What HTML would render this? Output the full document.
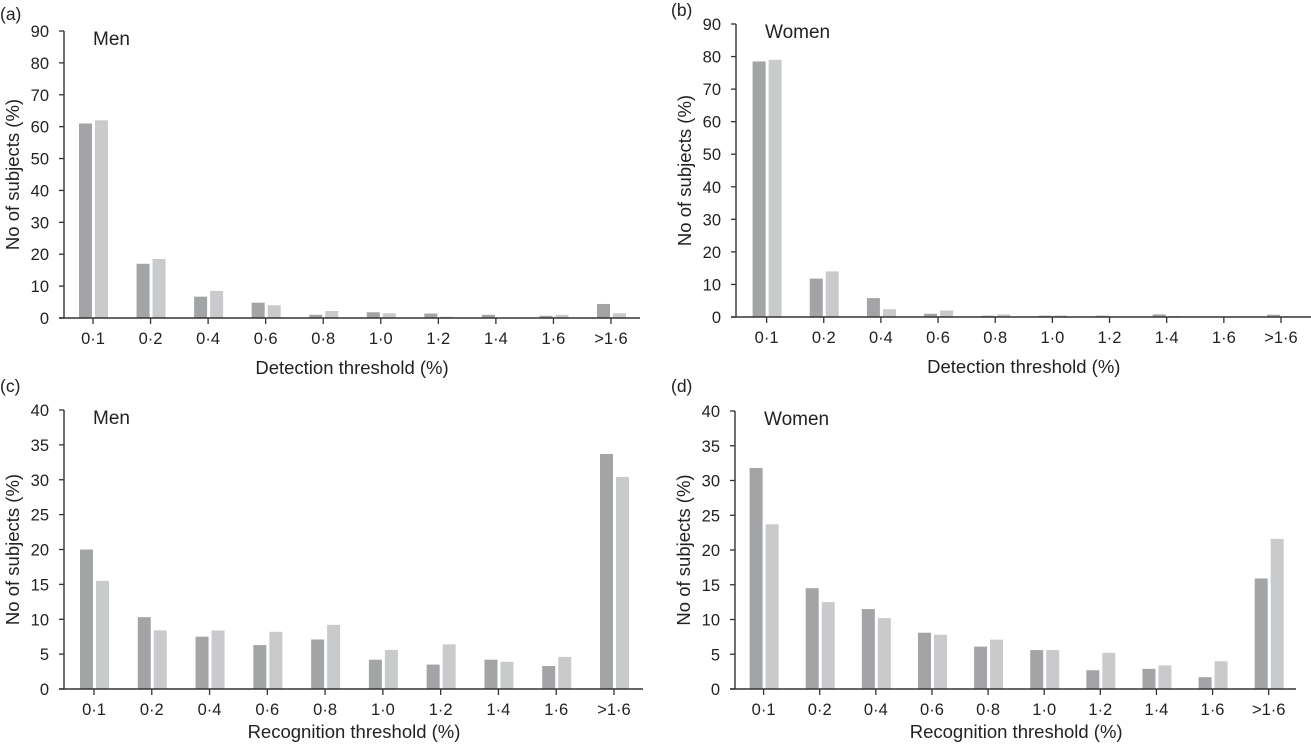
<!DOCTYPE html>
<html><head><meta charset="utf-8"><style>
html,body{margin:0;padding:0;background:#fff;}
svg{display:block;font-family:"Liberation Sans",Arial,sans-serif;}
</style></head><body>
<svg id="fig" width="1311" height="746" viewBox="0 0 1311 746"></svg>
<script>
const categories = ["0·1","0·2","0·4","0·6","0·8","1·0","1·2","1·4","1·6",">1·6"];
const menDetectionA = [61,17,6.7,4.8,1,1.8,1.4,1,0.7,4.4];
const menDetectionB = [62,18.5,8.5,4,2.2,1.5,0.4,0,1,1.5];
const womenDetectionA = [78.5,11.8,5.8,1,0.4,0.4,0.4,0.8,0,0.7];
const womenDetectionB = [79,14,2.4,2,0.8,0.5,0,0.3,0,0.2];
const menRecognitionA = [20,10.3,7.5,6.3,7.1,4.2,3.5,4.2,3.3,33.7];
const menRecognitionB = [15.5,8.4,8.4,8.2,9.2,5.6,6.4,3.9,4.6,30.4];
const womenRecognitionA = [31.8,14.5,11.5,8.1,6.1,5.6,2.7,2.9,1.7,15.9];
const womenRecognitionB = [23.7,12.5,10.2,7.8,7.1,5.6,5.2,3.4,4.0,21.6];
const detTicks = [0,10,20,30,40,50,60,70,80,90];
const recTicks = [0,5,10,15,20,25,30,35,40];

const NS="http://www.w3.org/2000/svg";
const svg=document.getElementById('fig');
function mk(tag,attrs,parent){const e=document.createElementNS(NS,tag);for(const k in attrs)e.setAttribute(k,attrs[k]);(parent||svg).appendChild(e);return e;}

const panels=[
 {id:'a',label:'(a)',title:'Men',xt:'Detection threshold (%)',ax:64,y0:318,yTop:31,ymax:90,ticks:detTicks,c0:93,c1:611,xEnd:640,labX:0,labY:20,xtOff:56,dA:menDetectionA,dB:menDetectionB},
 {id:'b',label:'(b)',title:'Women',xt:'Detection threshold (%)',ax:736,y0:317,yTop:24,ymax:90,ticks:detTicks,c0:766.6,c1:1281,xEnd:1311,labX:671,labY:16,xtOff:56,dA:womenDetectionA,dB:womenDetectionB},
 {id:'c',label:'(c)',title:'Men',xt:'Recognition threshold (%)',ax:64,y0:689,yTop:410,ymax:40,ticks:recTicks,c0:94,c1:614,xEnd:643,labX:0,labY:392,xtOff:49,dA:menRecognitionA,dB:menRecognitionB},
 {id:'d',label:'(d)',title:'Women',xt:'Recognition threshold (%)',ax:735,y0:689,yTop:411,ymax:40,ticks:recTicks,c0:763.6,c1:1268.7,xEnd:1296,labX:671,labY:392,xtOff:49,dA:womenRecognitionA,dB:womenRecognitionB}
];

panels.forEach(p=>{
 const g=mk('g',{});
 
 
 const yS=v=>p.y0-(v/p.ymax)*(p.y0-p.yTop);
 const step=(p.c1-p.c0)/(categories.length-1);
 const xS=i=>p.c0+i*step;
 categories.forEach((c,i)=>{
  const x=xS(i);
  const hA=p.y0-yS(p.dA[i]);
  const r1=mk('rect',{x:x-14,y:yS(p.dA[i]),width:13,height:Math.max(0,hA),fill:'#a3a4a6'},g);
  
  
  const hB=p.y0-yS(p.dB[i]);
  const r2=mk('rect',{x:x+2,y:yS(p.dB[i]),width:13,height:Math.max(0,hB),fill:'#c9cacc'},g);
  
  
  mk('line',{x1:x,x2:x,y1:p.y0,y2:p.y0+6,stroke:'#333','stroke-width':1.3},g);
  const t=mk('text',{x:x,y:p.y0+26,'text-anchor':'middle','font-size':16.5,fill:'#222'},g);
  t.textContent=c;
  
  
 });
 mk('line',{x1:p.ax,x2:p.ax,y1:p.yTop,y2:p.y0,stroke:'#333','stroke-width':1.4},g);
 mk('line',{x1:p.ax-5,x2:p.xEnd,y1:p.y0,y2:p.y0,stroke:'#333','stroke-width':1.4},g);
 p.ticks.forEach(v=>{
  const y=yS(v);
  mk('line',{x1:p.ax-5,x2:p.ax,y1:y,y2:y,stroke:'#333','stroke-width':1.3},g);
  const t=mk('text',{x:p.ax-15,y:y+6,'text-anchor':'end','font-size':16.5,fill:'#222'},g);
  t.textContent=v;
  
  
 });
 const yc=(p.y0+p.yTop)/2;
 const yt=mk('text',{x:0,y:0,'text-anchor':'middle','font-size':18.5,fill:'#222',transform:`translate(${p.ax-45},${yc}) rotate(-90)`},g);
 yt.textContent='No of subjects (%)';
 
 
 const xt=mk('text',{x:(p.c0+p.c1)/2,y:p.y0+p.xtOff,'text-anchor':'middle','font-size':18.5,fill:'#222'},g);
 xt.textContent=p.xt;
 
 
 const lb=mk('text',{x:p.labX,y:p.labY,'font-size':17.5,fill:'#222'},g);
 lb.textContent=p.label;
 
 
 const tt=mk('text',{x:p.ax+29,y:p.yTop+14,'font-size':19,fill:'#222'},g);
 tt.textContent=p.title;
 
 
});
</script>
</body></html>
